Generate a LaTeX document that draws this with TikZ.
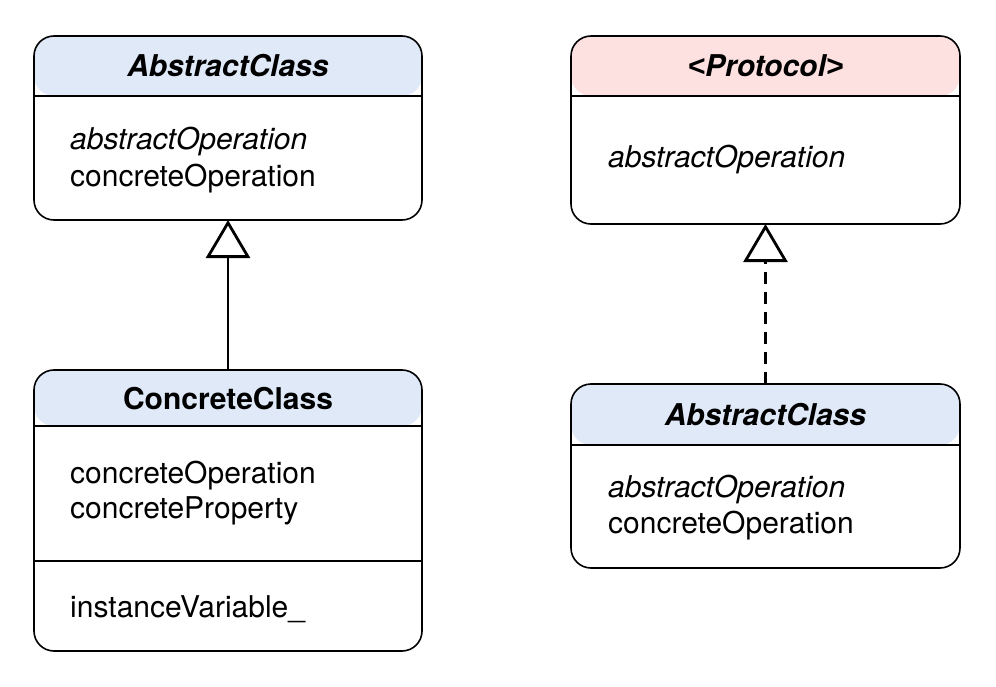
\documentclass[tikz,border=0pt]{standalone}
\usepackage{fontspec}
\setmainfont{TeX Gyre Heros}
\newfontfamily\bracketfont{Liberation Sans}
\usetikzlibrary{arrows.meta}
\definecolor{hdrblue}{HTML}{DFE9F8}
\definecolor{hdrpink}{HTML}{FDE1E1}

\begin{document}
\begin{tikzpicture}[x=1pt,y=-1pt,
  every node/.style={font=\fontsize{30}{36}\selectfont, inner sep=0pt},
  classbox/.style={draw, line width=1.6pt, rounded corners=20pt, outer sep=0pt, minimum width=388pt},
  header/.style 2 args={path picture={\fill[#1] (path picture bounding box.north west) rectangle ([yshift=-#2]path picture bounding box.north east);}},
  title/.style={anchor=base, font=\fontsize{30}{36}\selectfont\bfseries},
  member/.style={anchor=base west},
  divider/.style={line width=1.2pt},
  inherit/.style={line width=2.8pt, -{Triangle[open, length=38pt, width=44pt]}}
  ]
  \useasboundingbox (0,0) rectangle (996,687);

  % class boxes
  \node[classbox, header={hdrblue}{60pt}, minimum height=184pt] (absL) at (228,128) {};
  \node[classbox, header={hdrblue}{56pt}, minimum height=281pt] (conc) at (228,510.5) {};
  \node[classbox, header={hdrpink}{60pt}, minimum width=389pt, minimum height=188pt] (proto) at (765.5,130) {};
  \node[classbox, header={hdrblue}{61pt}, minimum width=389pt, minimum height=184pt] (absR) at (765.5,476) {};

  % compartment lines
  \draw[divider] (absL.west |- 0,96) -- (absL.east |- 0,96);
  \draw[divider] (conc.west |- 0,426) -- (conc.east |- 0,426);
  \draw[divider] (conc.west |- 0,561) -- (conc.east |- 0,561);
  \draw[divider] (proto.west |- 0,96) -- (proto.east |- 0,96);
  \draw[divider] (absR.west |- 0,445) -- (absR.east |- 0,445);

  % texts
  \node[title] (absLname) at (228,77) {\itshape AbstractClass};
  \node[member] (absLop1) at (70,150) {\itshape abstractOperation};
  \node[member] (absLop2) at (70,187) {concreteOperation};

  \node[title] (concname) at (228,409) {ConcreteClass};
  \node[member] (concop) at (70,483) {concreteOperation};
  \node[member] (concprop) at (70,518) {concreteProperty};
  \node[member] (concvar) at (70,617) {instanceVariable\_};

  \node[title] (protoname) at (765.5,77) {\itshape{\bracketfont<}Protocol{\bracketfont>}};
  \node[member] (protoop) at (608,168) {\itshape abstractOperation};

  \node[title] (absRname) at (765.5,425) {\itshape AbstractClass};
  \node[member] (absRop1) at (608,497) {\itshape abstractOperation};
  \node[member] (absRop2) at (608,533) {concreteOperation};

  % inheritance and conformance
  \draw[inherit] (conc.north) -- (absL.south);
  \draw[inherit, dash pattern=on 12pt off 8pt] (absR.north) -- (proto.south);
\end{tikzpicture}
\end{document}
